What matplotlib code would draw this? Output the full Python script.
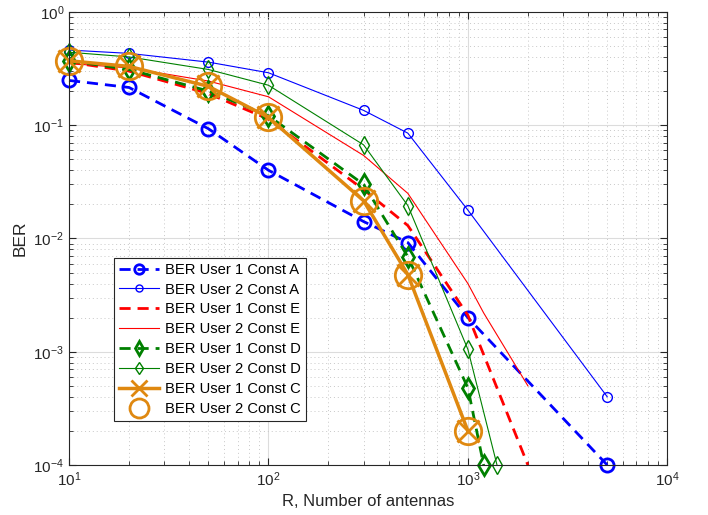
import matplotlib
matplotlib.use("Agg")
import matplotlib.pyplot as plt
from matplotlib.ticker import LogLocator, NullFormatter

plt.rcParams['font.family'] = ['Liberation Sans', 'DejaVu Sans']
plt.rcParams['mathtext.fontset'] = 'custom'
plt.rcParams['mathtext.rm'] = 'Liberation Sans'

# BER curves vs number of antennas
x_a = [10, 20, 50, 100, 300, 500, 1000, 5000]
ber_u1_a = [0.248, 0.215, 0.093, 0.040, 0.0141, 0.0092, 0.0020, 0.0001]
ber_u2_a = [0.46, 0.43, 0.36, 0.29, 0.135, 0.085, 0.0178, 0.0004]

x_e1 = [10, 20, 50, 100, 300, 500, 1000, 2000]
ber_u1_e = [0.36, 0.30, 0.19, 0.113, 0.027, 0.013, 0.0021, 0.0001]
x_e2 = [10, 20, 50, 100, 300, 500, 1000, 1200, 2000]
ber_u2_e = [0.35, 0.32, 0.245, 0.178, 0.054, 0.025, 0.0040, 0.0022, 0.0005]

x_d1 = [10, 20, 50, 100, 300, 500, 1000, 1200]
ber_u1_d = [0.37, 0.31, 0.20, 0.121, 0.030, 0.0069, 0.00048, 0.0001]
x_d2 = [10, 20, 50, 100, 300, 500, 1000, 1400]
ber_u2_d = [0.44, 0.40, 0.31, 0.225, 0.067, 0.0195, 0.00105, 0.0001]

x_c = [10, 20, 50, 100, 300, 500, 1000]
ber_c = [0.37, 0.33, 0.22, 0.117, 0.0215, 0.0048, 0.0002]

orange = '#df8810'

fig = plt.figure(figsize=(7.08, 5.15), dpi=100)
ax = fig.add_axes([0.0975, 0.097, 0.845, 0.88])

ax.plot(x_a, ber_u1_a, '--o', color='blue', lw=2, ms=9.5, mew=2, mfc='none',
        dashes=(4, 2.5), label='BER User 1 Const A', clip_on=False)
ax.plot(x_a, ber_u2_a, '-o', color='blue', lw=0.8, ms=7, mew=1, mfc='none',
        label='BER User 2 Const A', clip_on=False)
ax.plot(x_e1, ber_u1_e, '--', color='red', lw=2, dashes=(4, 2.5),
        label='BER User 1 Const E', clip_on=False)
ax.plot(x_e2, ber_u2_e, '-', color='red', lw=0.8,
        label='BER User 2 Const E', clip_on=False)
ax.plot(x_d1, ber_u1_d, '--d', color='green', lw=2, ms=10, mew=2, mfc='none',
        dashes=(4, 2.5), label='BER User 1 Const D', clip_on=False)
ax.plot(x_d2, ber_u2_d, '-d', color='green', lw=0.8, ms=9, mew=1, mfc='none',
        label='BER User 2 Const D', clip_on=False)
ax.plot(x_c, ber_c, '-x', color=orange, lw=2.5, ms=16, mew=2,
        label='BER User 1 Const C', clip_on=False)
ax.plot(x_c, ber_c, 'o', color=orange, ms=19, mew=2, mfc='none',
        label='BER User 2 Const C', clip_on=False)

ax.set_xscale('log')
ax.set_yscale('log')
ax.set_xlim(10, 1e4)
ax.set_ylim(1e-4, 1)
ax.xaxis.set_minor_locator(LogLocator(base=10, subs=range(2, 10), numticks=20))
ax.yaxis.set_minor_locator(LogLocator(base=10, subs=range(2, 10), numticks=20))
ax.xaxis.set_minor_formatter(NullFormatter())
ax.yaxis.set_minor_formatter(NullFormatter())

ax.grid(True, which='major', color='#dcdcdc', lw=0.8, ls='-')
ax.grid(True, which='minor', color='#c8c8c8', lw=0.7, ls=(0, (1, 3)))
ax.set_axisbelow(True)

ax.tick_params(which='both', direction='in', top=True, right=True,
               colors='#262626', labelsize=11)
ax.tick_params(which='major', length=5)
ax.tick_params(which='minor', length=3)
for s in ax.spines.values():
    s.set_color('#262626')
    s.set_linewidth(0.8)

ax.set_xlabel('R, Number of antennas', fontsize=12, color='#262626')
ax.set_ylabel('BER', fontsize=12.5, color='#262626')

leg = ax.legend(loc='lower left', bbox_to_anchor=(0.075, 0.097), fontsize=10.6,
                markerscale=0.72, handlelength=2.7, handletextpad=0.4,
                borderpad=0.35, labelspacing=0.4, borderaxespad=0,
                fancybox=False, edgecolor='#262626', framealpha=1)
leg.get_frame().set_linewidth(0.8)

fig.savefig('out.png', dpi=100)
